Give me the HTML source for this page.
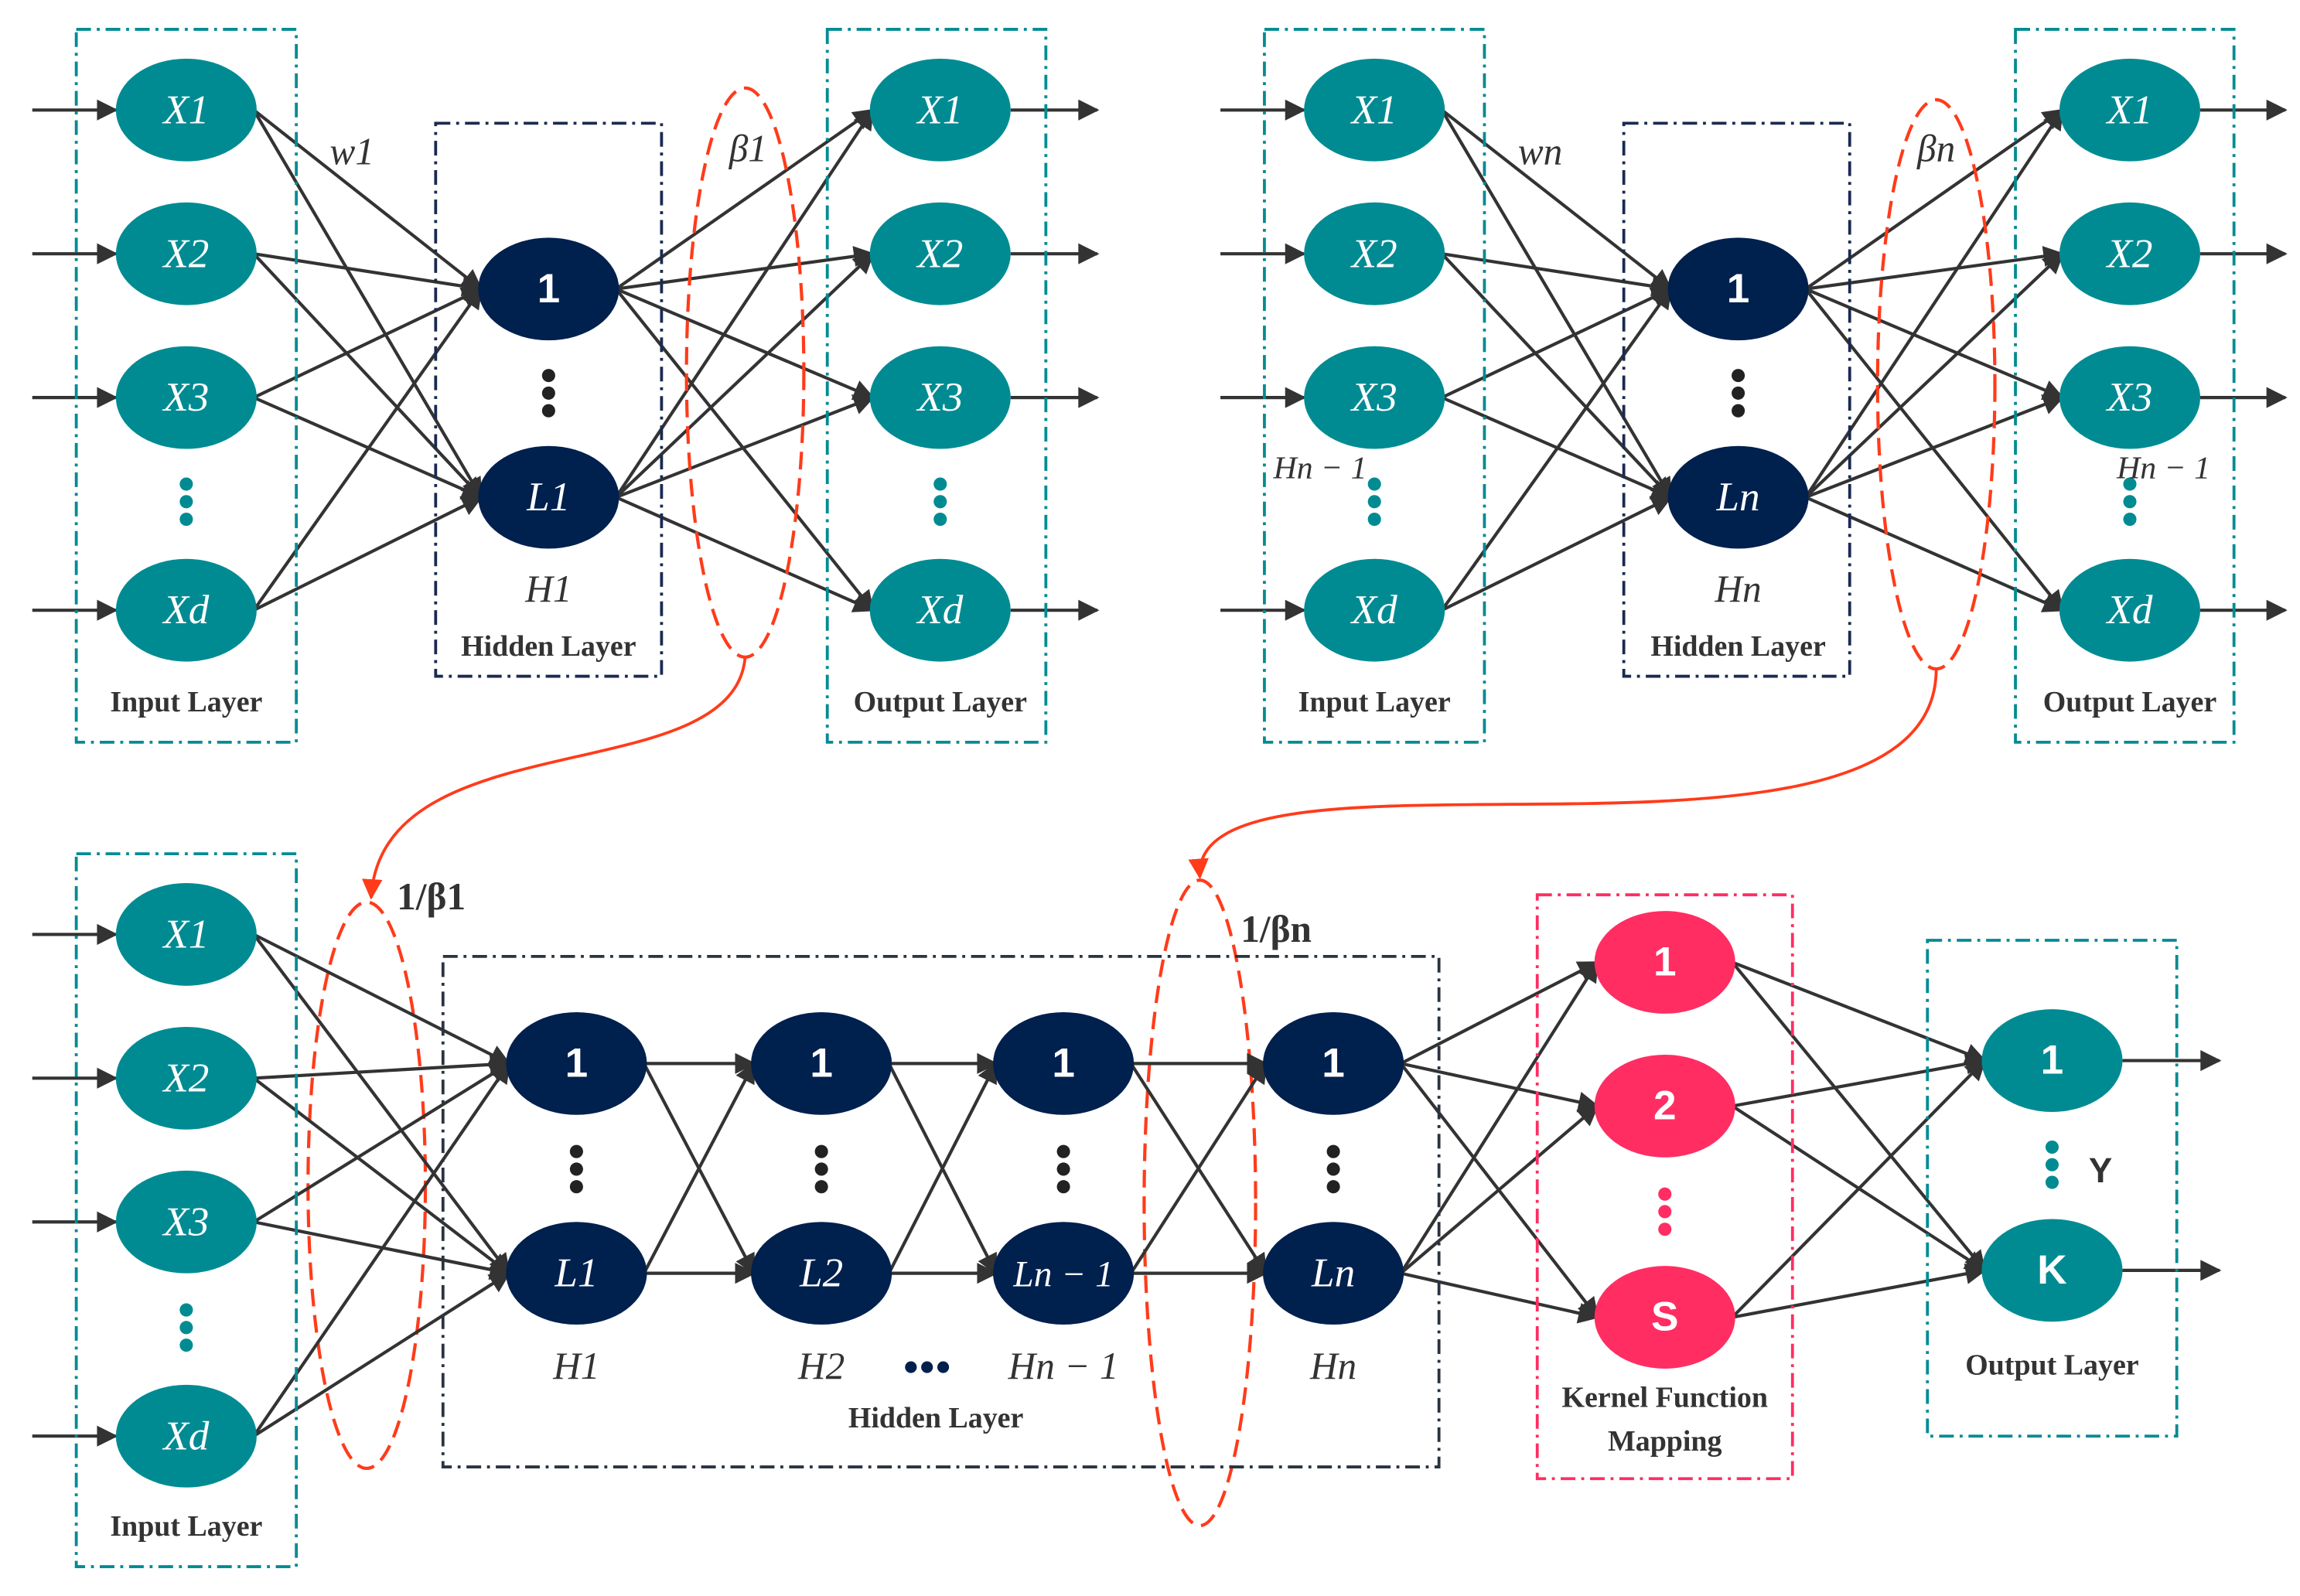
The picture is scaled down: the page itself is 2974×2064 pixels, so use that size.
<!DOCTYPE html>
<html><head><meta charset="utf-8"><style>
html,body{margin:0;padding:0;background:#fff}
svg{display:block}
</style></head><body>
<svg id="s" width="2974" height="2064" viewBox="0 0 1568 1088" preserveAspectRatio="none" xmlns="http://www.w3.org/2000/svg">
<defs>
<marker id="a" viewBox="0 0 10 10" refX="9" refY="5" markerWidth="7.5" markerHeight="6.5" orient="auto" markerUnits="strokeWidth"><path d="M0,0 L10,5 L0,10 z" fill="#333"/></marker>
<marker id="r" viewBox="0 0 10 10" refX="9" refY="5" markerWidth="7" markerHeight="7" orient="auto" markerUnits="strokeWidth"><path d="M0,0 L10,5 L0,10 z" fill="#ff3b1a"/></marker>
</defs>
<g id="lines" stroke="#333" stroke-width="2.2" fill="none"></g>
<g id="boxes" fill="none" stroke-width="2" stroke-dasharray="10 4 2 4"></g>
<g id="nodes"></g>
<g id="txt" font-family="Liberation Serif, serif"></g>
</svg>
<script>
const NS="http://www.w3.org/2000/svg";
function el(p,t,a,txt){const e=document.createElementNS(NS,t);for(const k in a)e.setAttribute(k,a[k]);if(txt!==undefined)e.textContent=txt;document.getElementById(p).appendChild(e);return e;}
const RX=48,RY=35;
function node(x,y,c,label,it){el('nodes','ellipse',{cx:x,cy:y,rx:RX,ry:RY,fill:c});
 el('txt','text',{x:x,y:y+9,'text-anchor':'middle','font-size':label.length>3?25:28,fill:'#fff','font-style':it?'italic':'normal','font-weight':it?'normal':'bold','font-family':it?'Liberation Serif, serif':'Liberation Sans, sans-serif'},label);}
function line(x1,y1,x2,y2){el('lines','line',{x1,y1,x2,y2,'marker-end':'url(#a)'});}
function conn(x1,y1,x2,y2){line(x1+RX-2,y1,x2-RX+2,y2);}
function box(x1,y1,x2,y2,c){el('boxes','rect',{x:x1,y:y1,width:x2-x1,height:y2-y1,stroke:c});}
function dots(x,y,c){for(let i=0;i<3;i++)el('nodes','circle',{cx:x,cy:y+i*12,r:4.5,fill:c});}
function t(x,y,s,o){o=o||{};el('txt','text',Object.assign({x:x,y:y,'text-anchor':'middle','font-size':22,fill:'#333'},o),s);}
const TE='#008b93',NV='#00204e',PK='#ff2d62';
function lab(x,y,s){t(x,y,s,{'font-weight':'bold','font-size':20});}
function mi(x,y,s){t(x,y,s,{'font-style':'italic','font-size':26});}
function panel(dx,L,Hl,wl,bl){
 const ix=127+dx,hx=374+dx-(dx?-1:0),ox=641+dx+(dx?1:0);
 const iy=[75,173,271,416],hy=[197,339];
 box(52+dx,20,202+dx,506,TE);box(297+dx,84,451+dx,461,'#1a2a50');box(564+dx,20,713+dx,506,TE);
 iy.forEach(y=>{line(22+dx,y,ix-RX,y);line(ox+RX,y,748+dx,y);});
 iy.forEach(y=>hy.forEach(h=>conn(ix,y,hx,h)));
 hy.forEach(h=>iy.forEach(y=>conn(hx,h,ox,y)));
 iy.forEach((y,i)=>{node(ix,y,TE,['X1','X2','X3','Xd'][i],1);node(ox,y,TE,['X1','X2','X3','Xd'][i],1);});
 node(hx,197,NV,'1',0);node(hx,339,NV,L,1);
 dots(hx,256,'#222');dots(ix,330,TE);dots(ox,330,TE);
 mi(hx,410,Hl);lab(hx,447,'Hidden Layer');lab(ix,485,'Input Layer');lab(ox,485,'Output Layer');
 mi(240+dx,112,wl);
}
panel(0,'L1','H1','w1');panel(810,'Ln','Hn','wn');
mi(510,110,'β1');mi(1320,110,'βn');
t(900,326,'Hn − 1',{'font-style':'italic','font-size':22});t(1475,326,'Hn − 1',{'font-style':'italic','font-size':22});
const R={fill:'none',stroke:'#ff3b1a','stroke-width':2.2,'stroke-dasharray':'12 6'};
el('lines','ellipse',Object.assign({cx:508,cy:254,rx:40,ry:194},R));
el('lines','ellipse',Object.assign({cx:1320,cy:262,rx:40,ry:194},R));
el('lines','ellipse',Object.assign({cx:250,cy:808,rx:40,ry:193},R));
el('lines','ellipse',Object.assign({cx:818,cy:820,rx:38,ry:220},R));
el('lines','path',{d:'M508,448 C500,540 260,490 253,612',stroke:'#ff3b1a','stroke-width':2,fill:'none','marker-end':'url(#r)'});
el('lines','path',{d:'M1320,456 C1320,620 810,490 818,598',stroke:'#ff3b1a','stroke-width':2,fill:'none','marker-end':'url(#r)'});
t(294,620,'1/β1',{'font-size':26,'font-weight':'bold'});t(870,642,'1/βn',{'font-size':26,'font-weight':'bold'});
box(52,582,202,1068,TE);box(302,652,981,1000,'#2a3340');box(1048,610,1222,1008,PK);box(1314,641,1484,979,TE);
const by=[637,735,833,979],cx=[393,560,725,909],cy=[725,868];
by.forEach(y=>{line(22,y,127-RX,y);cy.forEach(h=>conn(127,y,393,h));});
for(let i=0;i<3;i++)cy.forEach(a=>cy.forEach(b=>conn(cx[i],a,cx[i+1],b)));
const ky=[656,754,898],oy=[723,866];
cy.forEach(a=>ky.forEach(b=>conn(909,a,1135,b)));
ky.forEach(a=>oy.forEach(b=>conn(1135,a,1399,b)));
oy.forEach(y=>line(1399+RX,y,1513,y));
by.forEach((y,i)=>node(127,y,TE,['X1','X2','X3','Xd'][i],1));
dots(127,893,TE);
const Ll=['L1','L2','Ln − 1','Ln'],Hh=['H1','H2','Hn − 1','Hn'];
cx.forEach((x,i)=>{node(x,725,NV,'1',0);node(x,868,NV,Ll[i],1);dots(x,785,'#222');mi(x,940,Hh[i]);});
for(let i=0;i<3;i++)el('nodes','circle',{cx:621+i*11,cy:932,r:4,fill:NV});
lab(638,973,'Hidden Layer');lab(127,1047,'Input Layer');
['1','2','S'].forEach((s,i)=>node(1135,ky[i],PK,s,0));dots(1135,814,PK);
lab(1135,959,'Kernel Function');lab(1135,989,'Mapping');
node(1399,723,TE,'1',0);node(1399,866,TE,'K',0);dots(1399,782,TE);
t(1432,806,'Y',{'font-weight':'bold','font-size':24,'font-family':'Liberation Sans, sans-serif'});
lab(1399,937,'Output Layer');
</script>
</body></html>
